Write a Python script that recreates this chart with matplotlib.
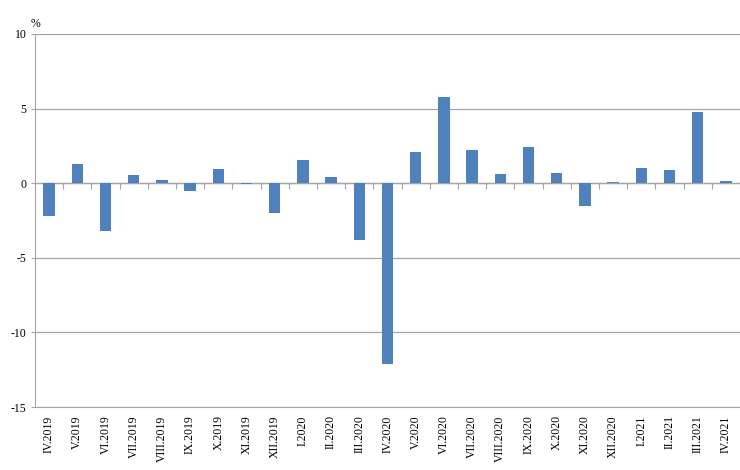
import numpy as np
import matplotlib
matplotlib.use("Agg")
from matplotlib import pyplot as plt

# months and monthly change, %
months = ["IV.2019", "V.2019", "VI.2019", "VII.2019", "VIII.2019", "IX.2019",
          "X.2019", "XI.2019", "XII.2019", "I.2020", "II.2020", "III.2020",
          "IV.2020", "V.2020", "VI.2020", "VII.2020", "VIII.2020", "IX.2020",
          "X.2020", "XI.2020", "XII.2020", "I.2021", "II.2021", "III.2021",
          "IV.2021"]
values = [-2.2, 1.3, -3.2, 0.55, 0.2, -0.5, 0.93, -0.08, -2.0, 1.53, 0.4, -3.8,
          -12.1, 2.07, 5.78, 2.23, 0.6, 2.45, 0.7, -1.5, 0.05, 1.0, 0.9, 4.8,
          0.18]
yticks = [-15, -10, -5, 0, 5, 10]

plt.rcParams["font.family"] = ["Liberation Serif", "DejaVu Serif"]
grey = "#a6a6a6"

fig = plt.figure(figsize=(7.4, 4.7), dpi=100)
ax = fig.add_axes([35 / 740, 1 - 407 / 470, 705 / 740, (407 - 34) / 470])

x = np.arange(len(months))
ax.bar(x, values, width=0.4, color="#4f81bd", zorder=3)

ax.set_xlim(-0.5, len(months) - 0.5)
ax.set_ylim(-15, 10)
ax.set_yticks(yticks)
ax.set_yticklabels([str(v) for v in yticks], fontsize=8.5)
ax.yaxis.grid(True, color=grey, linewidth=0.9, zorder=0)

ax.set_xticks(x)
ax.set_xticklabels(months, rotation=90, fontsize=8.5)
ax.tick_params(axis="x", length=0, pad=6)
ax.tick_params(axis="y", length=3, color=grey, pad=3)

for s in ["top", "right"]:
    ax.spines[s].set_visible(False)
ax.spines["left"].set_color(grey)
ax.spines["bottom"].set_color(grey)

# zero axis with category separators (ticks pointing down)
sec = ax.secondary_xaxis(15 / 25)
sec.xaxis.set_ticks_position("bottom")
sec.set_xticks(np.arange(-0.5, len(months), 1))
sec.set_xticklabels([])
sec.tick_params(axis="x", which="both", length=4, color=grey,
                direction="out", top=False, bottom=True)
sec.spines["bottom"].set_color(grey)
sec.spines["bottom"].set_linewidth(0.9)

fig.text(31 / 740, 1 - 24 / 470, "%", fontsize=8.5, ha="left", va="center")

fig.savefig("out.png", dpi=100)
